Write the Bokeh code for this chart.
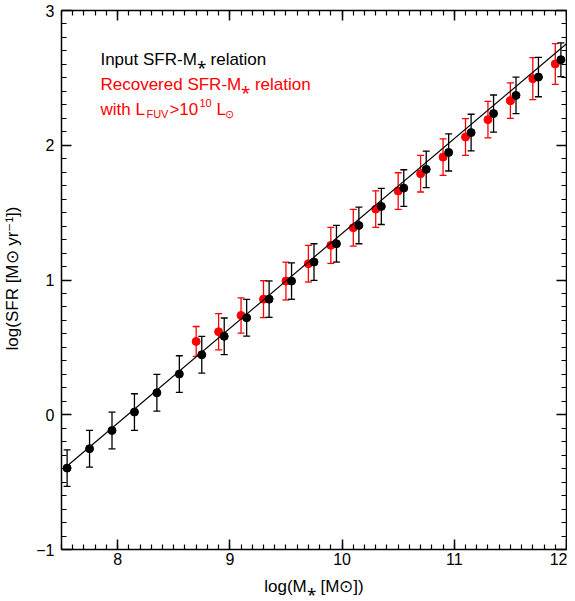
from bokeh.plotting import figure
from bokeh.models import (ColumnDataSource, Whisker, TeeHead, LinearAxis,
                          SingleIntervalTicker, Range1d, Label, CustomJSTickFormatter)
from bokeh.embed import file_html
from bokeh.resources import INLINE

# ---- data ----
black_x = [7.55, 7.75, 7.95, 8.15, 8.35, 8.55, 8.75, 8.95, 9.15, 9.35, 9.55, 9.75,
           9.95, 10.15, 10.35, 10.55, 10.75, 10.95, 11.15, 11.35, 11.55, 11.75, 11.95]
black_y = [-0.396, -0.252, -0.117, 0.020, 0.163, 0.302, 0.445, 0.582, 0.720, 0.858,
           0.992, 1.133, 1.269, 1.405, 1.546, 1.682, 1.821, 1.947, 2.094, 2.235,
           2.370, 2.506, 2.635]
black_err = [0.136, 0.136, 0.136, 0.136, 0.136, 0.136, 0.136, 0.136, 0.136, 0.135,
             0.135, 0.136, 0.136, 0.136, 0.134, 0.136, 0.136, 0.138, 0.136, 0.138,
             0.136, 0.146, 0.125]

red_x = [8.70, 8.90, 9.10, 9.30, 9.50, 9.70, 9.90, 10.10, 10.30, 10.50, 10.70,
         10.90, 11.10, 11.30, 11.50, 11.70, 11.90]
red_y = [0.544, 0.616, 0.737, 0.858, 0.992, 1.121, 1.257, 1.388, 1.526, 1.660,
         1.789, 1.912, 2.061, 2.190, 2.331, 2.494, 2.603]
red_err = [0.111, 0.134, 0.131, 0.137, 0.140, 0.136, 0.134, 0.136, 0.136, 0.136,
           0.136, 0.136, 0.136, 0.136, 0.132, 0.156, 0.151]

# input relation: log SFR = slope * log M + intercept
rel_slope = 0.704
rel_intercept = -5.695
rel_x = [7.55, 12.0]

x_ticks_interval = 1
y_ticks_interval = 1

FONT = "Liberation Sans"

# ---- figure ----
p = figure(frame_width=505, frame_height=539, output_backend="svg",
           toolbar_location=None,
           x_range=Range1d(7.5, 12.0), y_range=Range1d(-1, 3),
           min_border_left=61, min_border_right=1, min_border_top=10,
           min_border_bottom=44)
p.outline_line_color = None
p.grid.visible = False
p.background_fill_color = "white"
p.border_fill_color = "white"

xt = SingleIntervalTicker(interval=x_ticks_interval, num_minor_ticks=10)
yt = SingleIntervalTicker(interval=y_ticks_interval, num_minor_ticks=10)

p.xaxis.ticker = xt
p.yaxis.ticker = yt

for ax in (p.xaxis[0], p.yaxis[0]):
    ax.major_tick_in = 10
    ax.major_tick_out = 0
    ax.minor_tick_in = 5
    ax.minor_tick_out = 0
    ax.axis_line_width = 1.5
    ax.axis_line_color = "black"
    ax.major_tick_line_color = "black"
    ax.minor_tick_line_color = "black"
    ax.major_tick_line_width = 1.5
    ax.minor_tick_line_width = 1.2
    ax.major_label_text_font = FONT
    ax.major_label_text_font_size = "16px"
    ax.major_label_text_color = "black"
    ax.axis_label_text_font = FONT
    ax.axis_label_text_font_size = "17px"
    ax.axis_label_text_font_style = "normal"
    ax.axis_label_text_color = "black"

p.xaxis.axis_label = "log(M\u204e [M\u2299])"
p.yaxis.axis_label = "log(SFR [M\u2299 yr\u207b\u00b9])"
p.xaxis.major_label_standoff = 3
p.xaxis.axis_label_standoff = 9
p.yaxis.major_label_standoff = 7
p.yaxis.axis_label_standoff = 11

for loc, tk in (("above", xt), ("right", yt)):
    ax = LinearAxis(ticker=tk, formatter=CustomJSTickFormatter(code="return ''"),
                    major_label_standoff=0, major_tick_in=10, major_tick_out=0,
                    minor_tick_in=5, minor_tick_out=0, axis_line_width=1.5,
                    major_tick_line_width=1.5, minor_tick_line_width=1.2,
                    major_label_text_font_size="1px")
    p.add_layout(ax, loc)

# ---- data glyphs ----
src_r = ColumnDataSource(dict(x=red_x, y=red_y,
                              lo=[a - b for a, b in zip(red_y, red_err)],
                              hi=[a + b for a, b in zip(red_y, red_err)]))
src_b = ColumnDataSource(dict(x=black_x, y=black_y,
                              lo=[a - b for a, b in zip(black_y, black_err)],
                              hi=[a + b for a, b in zip(black_y, black_err)]))

wr = Whisker(source=src_r, base="x", lower="lo", upper="hi", line_color="red",
             line_width=1.3,
             upper_head=TeeHead(size=7, line_color="red", line_width=1.3),
             lower_head=TeeHead(size=7, line_color="red", line_width=1.3))
p.add_layout(wr)
p.scatter("x", "y", source=src_r, size=8, color="red")

wb = Whisker(source=src_b, base="x", lower="lo", upper="hi", line_color="black",
             line_width=1.3,
             upper_head=TeeHead(size=7, line_color="black", line_width=1.3),
             lower_head=TeeHead(size=7, line_color="black", line_width=1.3))
p.add_layout(wb)
p.scatter("x", "y", source=src_b, size=8, color="black")

p.line(rel_x, [rel_slope * v + rel_intercept for v in rel_x], line_color="black",
       line_width=1.2)

# ---- legend text ----
lx = 7.847
def lab(text, y, color, size="17px", dx=0, dy=0):
    p.add_layout(Label(x=lx, y=y, x_offset=dx, y_offset=dy, text=text,
                       text_font=FONT, text_font_size=size, text_color=color,
                       text_baseline="alphabetic", text_align="left"))

lab("Input SFR-M\u204e relation", 2.634, "black")
lab("Recovered SFR-M\u204e relation", 2.449, "red")
lab("with L", 2.265, "red")
lab("FUV", 2.265, "red", size="11px", dx=46, dy=-4)
lab(">10", 2.265, "red", dx=69)
lab("10", 2.265, "red", size="11px", dx=99, dy=7)
lab("L", 2.265, "red", dx=116)
lab("\u2299", 2.265, "red", size="11px", dx=125, dy=-4)

open("out.html", "w").write(file_html(p, INLINE))
